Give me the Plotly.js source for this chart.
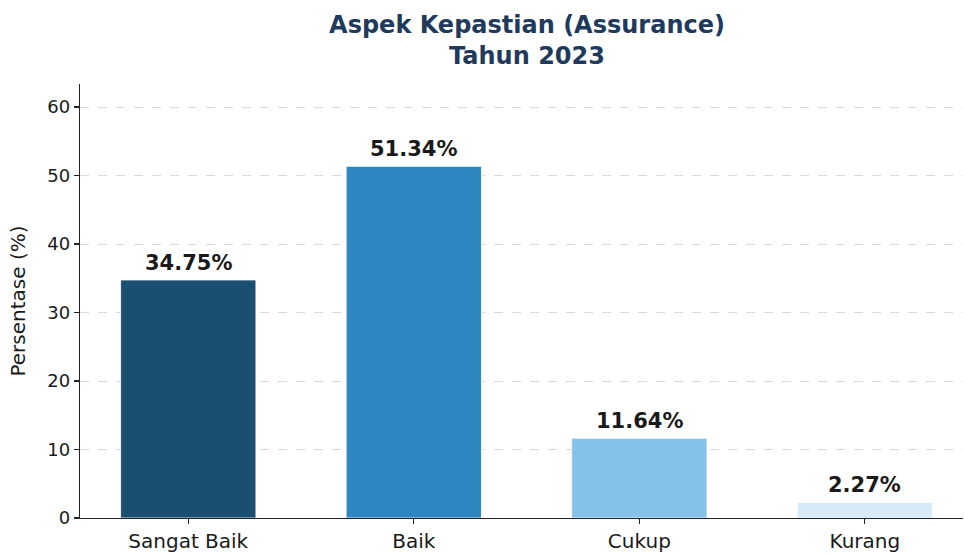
<!DOCTYPE html>
<html>
<head>
<meta charset="utf-8">
<script src="https://cdn.plot.ly/plotly-3.0.1.min.js"></script>
<style>html,body{margin:0;padding:0;background:#fff;}#chart{width:964px;height:556px;}</style>
</head>
<body>
<div id="chart"></div>
<script>
const categories = ["Sangat Baik", "Baik", "Cukup", "Kurang"];
const values = [34.75, 51.34, 11.64, 2.27];
const labels = ["34.75%", "51.34%", "11.64%", "2.27%"];
const colors = ["#1b4f72", "#2e86c1", "#85c1e9", "#d6eaf8"];
const yTicks = [0, 10, 20, 30, 40, 50, 60];

const font = "DejaVu Sans, sans-serif";

const trace = {
  type: "bar",
  x: categories.map((c, i) => i),
  y: values,
  width: 0.6,
  marker: { color: colors, line: { color: "#ffffff", width: 0.8 } },
  hoverinfo: "none"
};

const annotations = values.map((v, i) => ({
  x: i, y: v, xref: "x", yref: "y",
  text: labels[i], showarrow: false,
  yanchor: "bottom", yshift: 3,
  font: { family: font, size: 21, color: "#1a1a1a", weight: "bold" }
}));

const layout = {
  width: 964, height: 556,
  margin: { l: 80, r: 1, t: 84, b: 38 },
  paper_bgcolor: "#ffffff", plot_bgcolor: "#ffffff",
  showlegend: false,
  title: {
    text: "<b>Aspek Kepastian (Assurance)<br>Tahun 2023</b>",
    font: { family: font, size: 24, color: "#1f3a5c" },
    x: 527 / 964, xref: "container", xanchor: "center",
    y: 1 - 33 / 556, yref: "container", yanchor: "middle"
  },
  xaxis: {
    range: [-0.48, 3.435],
    tickvals: categories.map((c, i) => i),
    ticktext: categories,
    showline: true, linecolor: "#222222", linewidth: 1.3,
    ticks: "outside", ticklen: 5, tickwidth: 1.2, tickcolor: "#222222",
    showgrid: false, zeroline: false,
    tickfont: { family: font, size: 20, color: "#1a1a1a" }
  },
  yaxis: {
    range: [0, 63.36],
    tickvals: yTicks,
    showline: true, linecolor: "#222222", linewidth: 1.3,
    ticks: "outside", ticklen: 5, tickwidth: 1.2, tickcolor: "#222222",
    showgrid: true, gridcolor: "#d9d9d9", griddash: "dash", gridwidth: 1,
    zeroline: false,
    tickfont: { family: font, size: 18, color: "#1a1a1a" },
    title: { text: "Persentase (%)", font: { family: font, size: 20, color: "#1a1a1a" }, standoff: 16 }
  },
  annotations: annotations
};

Plotly.newPlot("chart", [trace], layout, { displayModeBar: false, staticPlot: true });
</script>
</body>
</html>
